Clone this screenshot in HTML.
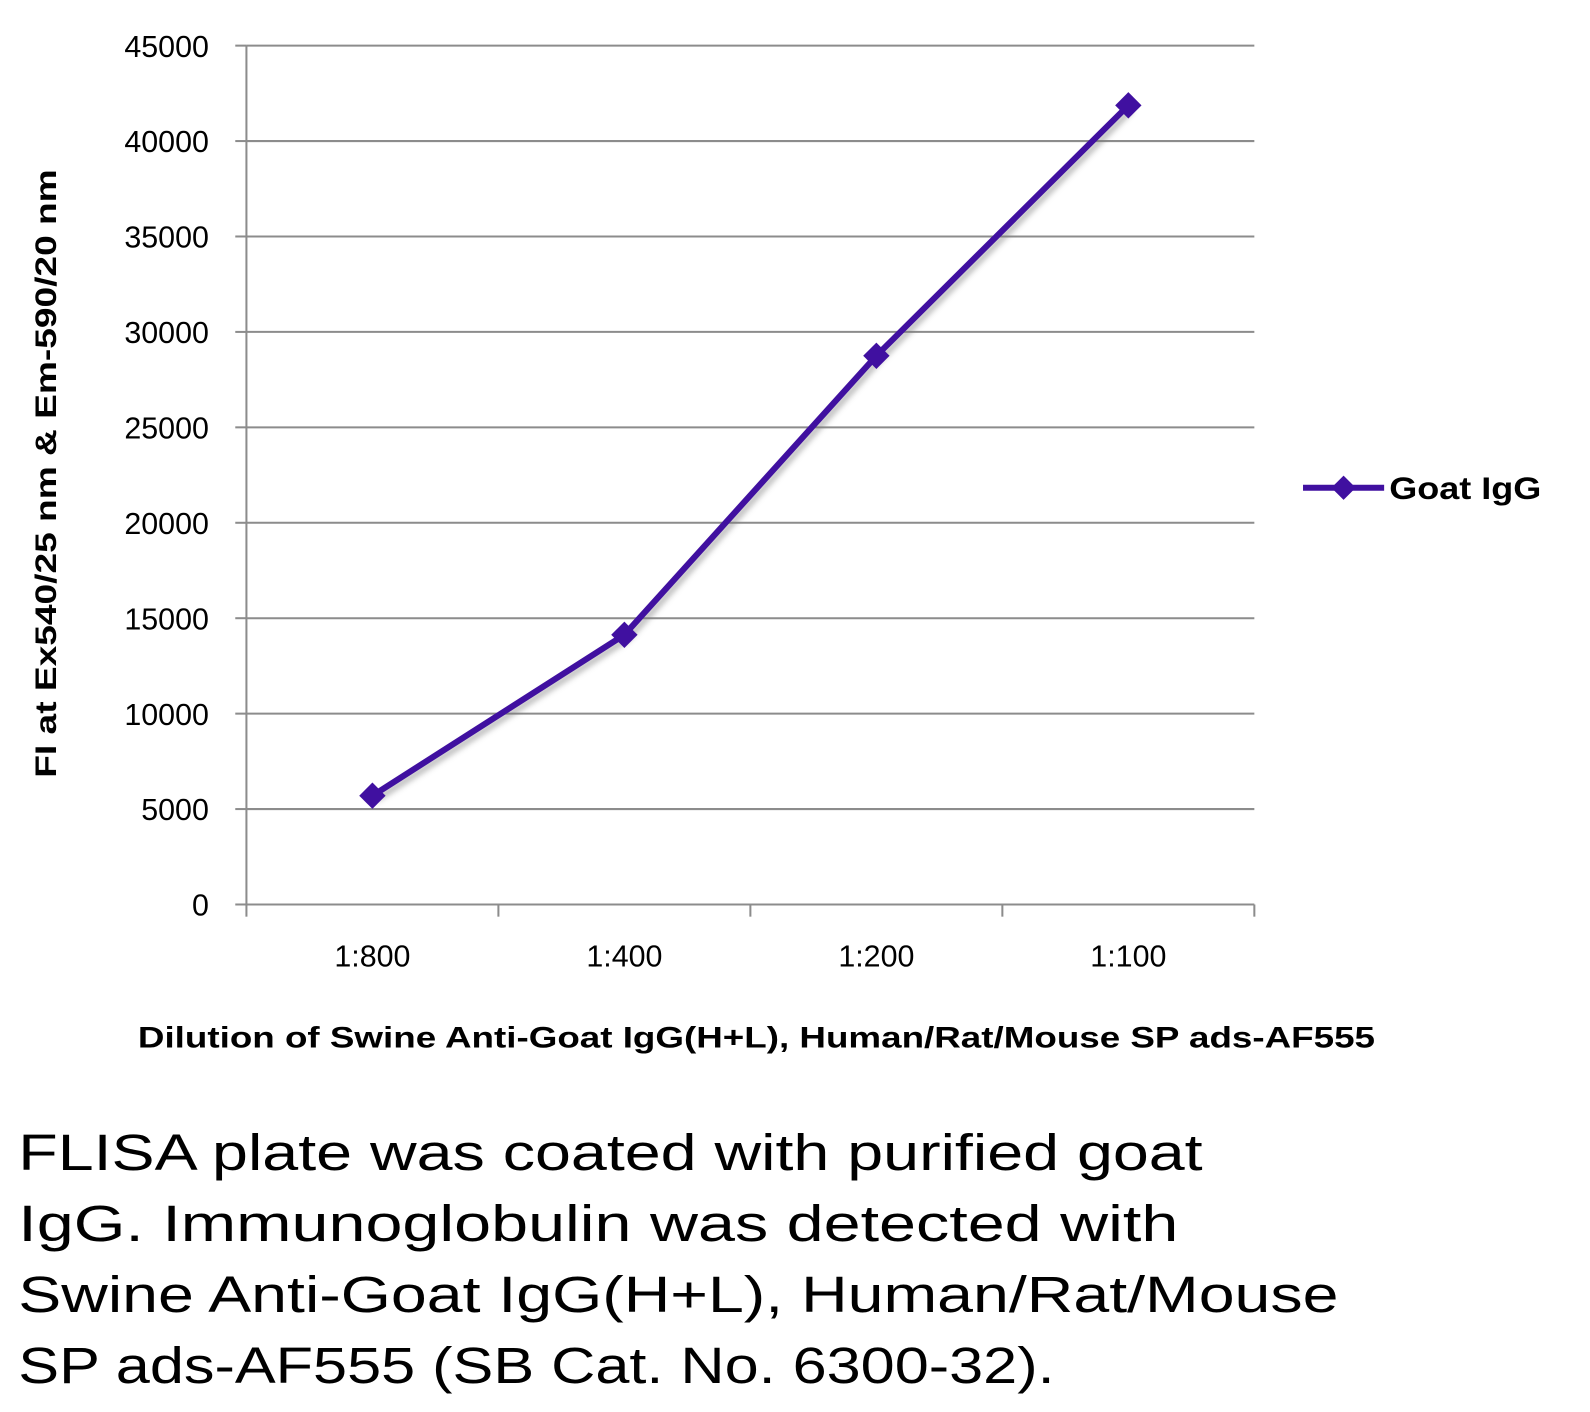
<!DOCTYPE html>
<html><head><meta charset="utf-8"><style>
html,body{margin:0;padding:0;background:#fff;}
svg{display:block;}
text{font-family:"Liberation Sans",sans-serif;fill:#000;}
</style></head><body>
<svg id="chart" width="1590" height="1412" viewBox="0 0 1568 1392.5">
<defs><filter id="sh" x="-10%" y="-10%" width="120%" height="120%"><feGaussianBlur stdDeviation="3"/></filter></defs>
<g id="grid"></g>
<g id="axes"></g>
<g id="series"></g>
<text x="55" y="467" transform="rotate(-90 55 467)" text-anchor="middle" font-size="29" font-weight="bold" textLength="600" lengthAdjust="spacingAndGlyphs">FI at Ex540/25 nm &amp; Em-590/20 nm</text>
<text x="746" y="1033" text-anchor="middle" font-size="29" font-weight="bold" textLength="1220" lengthAdjust="spacingAndGlyphs">Dilution of Swine Anti-Goat IgG(H+L), Human/Rat/Mouse SP ads-AF555</text>
<g>
<line x1="1285" y1="481" x2="1365" y2="481" stroke="#4010A0" stroke-width="6"/>
<path d="M1325 469 L1337 481 L1325 493 L1313 481 Z" fill="#4010A0"/>
<text x="1370" y="492" font-size="31" font-weight="bold" textLength="150" lengthAdjust="spacingAndGlyphs">Goat IgG</text>
</g>
<g font-size="50">
<text x="18" y="1154" textLength="1168" lengthAdjust="spacingAndGlyphs">FLISA plate was coated with purified goat</text>
<text x="18" y="1224" textLength="1144" lengthAdjust="spacingAndGlyphs">IgG.  Immunoglobulin was detected with</text>
<text x="18" y="1294" textLength="1302" lengthAdjust="spacingAndGlyphs">Swine Anti-Goat IgG(H+L), Human/Rat/Mouse</text>
<text x="18" y="1364" textLength="1022" lengthAdjust="spacingAndGlyphs">SP ads-AF555 (SB Cat. No. 6300-32).</text>
</g>
</svg>
<script>
const categories = ["1:800","1:400","1:200","1:100"];
const goatIgG = [5700, 14130, 28750, 41870];
const yTicks = [0,5000,10000,15000,20000,25000,30000,35000,40000,45000];
const NS="http://www.w3.org/2000/svg";
const L=243,R=1237,T=45,B=892,yMax=45000;
const bw=(R-L)/categories.length;
function xs(i){return L+bw*(i+0.5);}
function ys(v){return B-(v/yMax)*(B-T);}
function mk(tag,attrs,parent){const e=document.createElementNS(NS,tag);for(const k in attrs)e.setAttribute(k,attrs[k]);parent.appendChild(e);return e;}
const grid=document.getElementById('grid'),axes=document.getElementById('axes'),ser=document.getElementById('series');
yTicks.forEach(v=>{
  const y=ys(v);
  if(v>0){const g=mk('line',{x1:L,x2:R,y1:y,y2:y,stroke:'#8c8c8c','stroke-width':2},grid);
  
  }
  const t=mk('line',{x1:232,x2:L,y1:y,y2:y,stroke:'#8c8c8c','stroke-width':2},axes);
  
  
  const lb=mk('text',{x:206,y:y+11,'text-anchor':'end','font-size':30},axes);
  lb.textContent=v;
  
  
});
const xa=mk('line',{x1:L,x2:R,y1:B,y2:B,stroke:'#8c8c8c','stroke-width':2},axes);


const ya=mk('line',{x1:L,x2:L,y1:T,y2:B,stroke:'#8c8c8c','stroke-width':2},axes);


for(let i=0;i<=categories.length;i++){
  const x=L+bw*i;
  const t=mk('line',{x1:x,x2:x,y1:B,y2:904,stroke:'#8c8c8c','stroke-width':2},axes);
  
  
}
categories.forEach((c,i)=>{
  const t=mk('text',{x:xs(i),y:953,'text-anchor':'middle','font-size':30},axes);
  t.textContent=c;
  
  
});
const pts=goatIgG.map((v,i)=>xs(i)+','+ys(v)).join(' ');
const sh=mk('polyline',{points:pts,fill:'none',stroke:'#777','stroke-width':6,opacity:0.5,filter:'url(#sh)',transform:'translate(3,4)'},ser);


const pl=mk('polyline',{points:pts,fill:'none',stroke:'#4010A0','stroke-width':6,'stroke-linejoin':'round'},ser);


goatIgG.forEach((v,i)=>{
  const x=xs(i),y=ys(v);
  const d=mk('path',{d:`M${x} ${y-13} L${x+13} ${y} L${x} ${y+13} L${x-13} ${y} Z`,fill:'#4010A0'},ser);
  
  
});
</script>
</body></html>
